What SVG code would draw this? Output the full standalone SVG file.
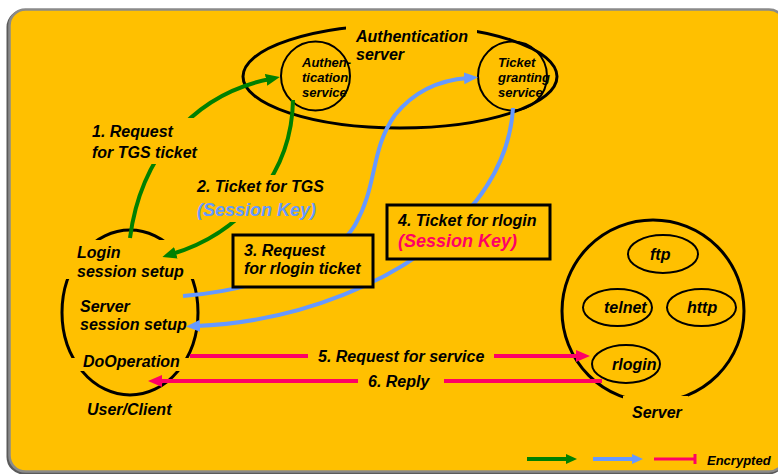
<svg xmlns="http://www.w3.org/2000/svg" width="778" height="474" viewBox="0 0 778 474">
  <defs>
    <style>
      .t{font-family:"Liberation Sans",Arial,sans-serif;font-weight:bold;font-style:italic;font-size:16px;fill:#000}
      .s{font-size:13px}
      .k{font-size:18px}
      .bg{fill:#FFC000}
      .ol{fill:none;stroke:#000;stroke-width:3}
      .ol2{fill:none;stroke:#000;stroke-width:2}
      .box{fill:#FFC000;stroke:#000;stroke-width:3}
      .g{fill:none;stroke:#008000;stroke-width:4}
      .b{fill:none;stroke:#6699FF;stroke-width:4}
      .p{fill:none;stroke:#FF0066;stroke-width:4}
    </style>
    <marker id="ag" markerUnits="userSpaceOnUse" viewBox="0 0 14 12" markerWidth="14" markerHeight="12" refX="4" refY="6" orient="auto">
      <path d="M0,0 L14,6 L0,12 z" fill="#008000"/>
    </marker>
    <marker id="ab" markerUnits="userSpaceOnUse" viewBox="0 0 14 12" markerWidth="14" markerHeight="12" refX="4" refY="6" orient="auto">
      <path d="M0,0 L14,6 L0,12 z" fill="#6699FF"/>
    </marker>
    <marker id="ap" markerUnits="userSpaceOnUse" viewBox="0 0 14 12" markerWidth="14" markerHeight="12" refX="4" refY="6" orient="auto">
      <path d="M0,0 L14,6 L0,12 z" fill="#FF0066"/>
    </marker>
    <marker id="lg" markerUnits="userSpaceOnUse" viewBox="0 0 11 10" markerWidth="11" markerHeight="10" refX="3" refY="5" orient="auto">
      <path d="M0,0 L11,5 L0,10 z" fill="#008000"/>
    </marker>
    <marker id="lb" markerUnits="userSpaceOnUse" viewBox="0 0 11 10" markerWidth="11" markerHeight="10" refX="3" refY="5" orient="auto">
      <path d="M0,0 L11,5 L0,10 z" fill="#6699FF"/>
    </marker>
  </defs>

  <!-- panel -->
  <rect x="8" y="11" width="776" height="462" rx="16" fill="none" stroke="#5a5a5a" stroke-width="3"/>
  <rect x="9.5" y="9.5" width="775.5" height="462" rx="16" fill="#FFC000" stroke="#8a8a8a" stroke-width="2.5"/>

  <!-- Authentication server with its two services -->
  <g id="auth-server">
    <ellipse class="ol" cx="400" cy="76.5" rx="157" ry="51.5"/>
    <rect class="bg" x="346" y="18" width="131" height="18"/>
    <text class="t" x="356" y="42">Authentication</text>
    <text class="t" x="356" y="60">server</text>
  </g>
  <g id="auth-service">
    <circle class="ol2" cx="315.5" cy="76" r="34.5"/>
    <text class="t s" x="302" y="67">Authen-</text>
    <text class="t s" x="302" y="82">tication</text>
    <text class="t s" x="302" y="97">service</text>
  </g>
  <g id="tgs">
    <circle class="ol2" cx="512.5" cy="76" r="34.5"/>
    <text class="t s" x="498" y="67">Ticket</text>
    <text class="t s" x="498" y="82">granting</text>
    <text class="t s" x="498" y="97">service</text>
  </g>

  <!-- User / Client -->
  <g id="client">
    <ellipse class="ol" cx="130" cy="312.5" rx="68" ry="82.5"/>
    <rect class="bg" x="55" y="240" width="150" height="39"/>
    <rect class="bg" x="55" y="358" width="150" height="13"/>
    <text class="t" x="77" y="258">Login</text>
    <text class="t" x="77" y="277">session setup</text>
    <text class="t" x="80" y="312">Server</text>
    <text class="t" x="80" y="330">session setup</text>
    <text class="t" x="83" y="367">DoOperation</text>
    <text class="t" x="87" y="415">User/Client</text>
  </g>

  <!-- Server -->
  <g id="server">
    <circle class="ol" cx="653" cy="311" r="91"/>
    <rect class="bg" x="623" y="396" width="65" height="28"/>
    <text class="t" x="632" y="418">Server</text>
  </g>
  <g id="ftp">
    <ellipse class="ol2" cx="663" cy="254" rx="35" ry="19"/>
    <text class="t" x="650" y="260">ftp</text>
  </g>
  <g id="telnet">
    <ellipse class="ol2" cx="617.5" cy="307.5" rx="34.5" ry="18.5"/>
    <text class="t" x="604" y="313">telnet</text>
  </g>
  <g id="http">
    <ellipse class="ol2" cx="701.5" cy="307.5" rx="34.5" ry="18.5"/>
    <text class="t" x="687" y="313">http</text>
  </g>
  <g id="rlogin">
    <ellipse class="ol2" cx="626" cy="364" rx="34" ry="19"/>
    <text class="t" x="612" y="370">rlogin</text>
  </g>

  <!-- message flows -->
  <g id="connectors">
    <path class="g" d="M130,238 C140,160 190,95 270,79" marker-end="url(#ag)"/>
    <path class="g" d="M293,100 C292,170 245,232 172,254" marker-end="url(#ag)"/>
    <path class="b" d="M183,296 C260,290 335,260 355,225 C378,185 370,150 395,115 C415,90 440,80 468,78" marker-end="url(#ab)"/>
    <path class="b" d="M513,108 C510,160 480,200 455,225 C400,280 300,322 196,326" marker-end="url(#ab)"/>
    <path class="p" d="M190,356 H580" marker-end="url(#ap)"/>
    <path class="p" d="M602,381 H158" marker-end="url(#ap)"/>
  </g>

  <!-- flow labels -->
  <g id="label-1">
    <rect class="bg" x="88" y="118" width="112" height="46"/>
    <text class="t" x="92" y="137">1. Request</text>
    <text class="t" x="92" y="158">for TGS ticket</text>
  </g>
  <g id="label-2">
    <rect class="bg" x="193" y="175" width="133" height="47"/>
    <text class="t" x="197" y="192">2. Ticket for TGS</text>
    <text class="t k" x="197" y="216" style="fill:#6699FF">(Session Key)</text>
  </g>
  <g id="label-3">
    <rect class="box" x="233" y="235" width="140" height="52"/>
    <text class="t" x="244" y="256">3. Request</text>
    <text class="t" x="244" y="274">for rlogin ticket</text>
  </g>
  <g id="label-4">
    <rect class="box" x="387" y="205" width="163" height="54"/>
    <text class="t" x="398" y="226">4. Ticket for rlogin</text>
    <text class="t k" x="398" y="247" style="fill:#FF0066">(Session Key)</text>
  </g>
  <g id="label-5">
    <rect class="bg" x="308" y="346" width="186" height="20"/>
    <text class="t" x="318" y="362">5. Request for service</text>
  </g>
  <g id="label-6">
    <rect class="bg" x="358" y="372" width="86" height="20"/>
    <text class="t" x="368" y="387">6. Reply</text>
  </g>

  <!-- legend -->
  <g id="legend">
    <path d="M527,459 H569" fill="none" stroke="#008000" stroke-width="4" marker-end="url(#lg)"/>
    <path d="M593,459 H635" fill="none" stroke="#6699FF" stroke-width="4" marker-end="url(#lb)"/>
    <path d="M654,459 H695 M695,454 V464" fill="none" stroke="#FF0066" stroke-width="3"/>
    <text class="t s" x="707" y="465">Encrypted</text>
  </g>
</svg>
